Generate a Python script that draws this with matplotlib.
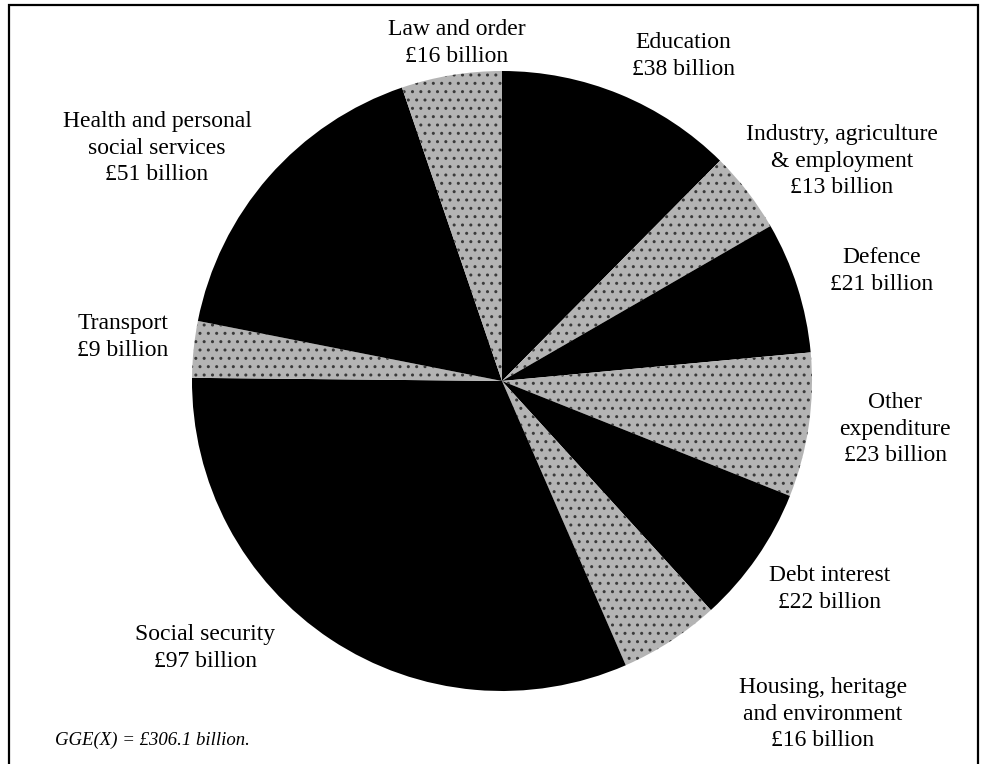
import matplotlib.pyplot as plt
from matplotlib.patches import Rectangle

plt.rcParams['font.family'] = ['Liberation Serif', 'DejaVu Serif']
plt.rcParams['hatch.linewidth'] = 1.0

# Data (clockwise from 12 o'clock)
categories = ["Education", "Industry, agriculture\n& employment", "Defence",
              "Other\nexpenditure", "Debt interest",
              "Housing, heritage\nand environment", "Social security",
              "Transport", "Health and personal\nsocial services",
              "Law and order"]
values = [38, 13, 21, 23, 22, 16, 97, 9, 51, 16]
shaded = [False, True, False, True, False, True, False, True, False, True]
total_note = "GGE(X) = £306.1 billion."

W, H = 985, 764
fig = plt.figure(figsize=(W / 100, H / 100), dpi=100)

# pie axes: centre ~ (502, 381) px, radius ~ 310 px
cx, cy, r = 502, 381, 310
ax = fig.add_axes([(cx - r) / W, 1 - (cy + r) / H, 2 * r / W, 2 * r / H])
wedges, _ = ax.pie(values, startangle=90, counterclock=False,
                   colors=['black'] * len(values),
                   wedgeprops=dict(linewidth=0))
for w, s in zip(wedges, shaded):
    if s:
        w.set_facecolor('#b4b4b4')
        w.set_edgecolor('#3a3a3a')
        w.set_hatch('..')
        w.set_linewidth(0)
ax.set_xlim(-1, 1)
ax.set_ylim(-1, 1)
ax.set_aspect('equal')

# labels (pixel positions of the text centres)
label_pos = [(683, 56), (842, 161), (882, 271), (895, 429), (830, 589),
             (823, 714), (205, 648), (123, 337), (157, 148), (457, 43)]
for name, v, (x, y) in zip(categories, values, label_pos):
    fig.text(x / W, 1 - y / H, f"{name}\n£{v} billion", ha='center', va='center',
             fontsize=17, linespacing=1.36)

fig.text(55 / W, 1 - 740 / H, total_note, ha='left', va='center',
         fontsize=13.5, style='italic')

# frame around the figure panel
fig.patches.append(Rectangle((9 / W, -0.05), (978 - 9) / W, 1.05 - 5 / H,
                             transform=fig.transFigure, fill=False,
                             edgecolor='black', linewidth=1.6))

fig.savefig("out.png", dpi=100, facecolor='white')
